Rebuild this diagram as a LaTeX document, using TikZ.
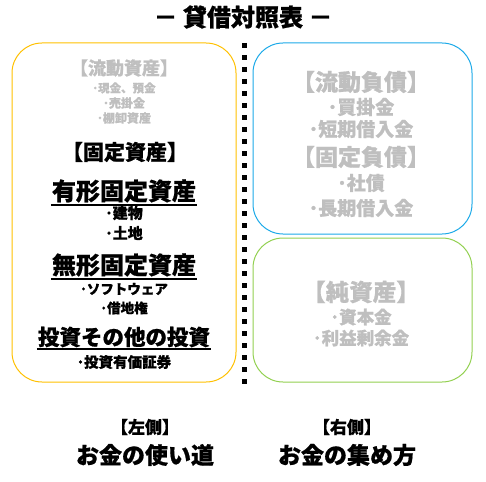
\documentclass[tikz,border=0pt]{standalone}
\usepackage{fontspec}
\setmainfont{Noto Sans CJK JP}[BoldFont={Noto Sans CJK JP Black}, BoldFeatures={FakeBold=0.8}]
\definecolor{boxyellow}{HTML}{FFC000}
\definecolor{boxblue}{HTML}{1BA9E8}
\definecolor{boxgreen}{HTML}{92D050}
\definecolor{fadegray}{HTML}{BFBFBF}
\tikzset{
  panel/.style={draw, line width=1pt, rounded corners=30pt},
  txt/.style={inner sep=0pt, font=\bfseries, anchor=center},
  faded/.style={txt, text=fadegray},
  ul/.style={line width=1.4pt},
  divider/.style={line width=5pt, dash pattern=on 5pt off 7pt}
}
\newcommand{\fs}[1]{\bfseries\fontsize{#1}{#1}\selectfont}
\begin{document}
\begin{tikzpicture}[x=1pt, y=-1pt]
\useasboundingbox (0,0) rectangle (486,481);
% title
\node[txt, font=\fs{24}] (title) at (243,17) {－ 貸借対照表 －};
% panels
\draw[panel, boxyellow] (12,43) rectangle (236,382);
\draw[panel, boxblue] (253,43) rectangle (472,234);
\draw[panel, boxgreen] (253,238) rectangle (472,382);
% divider
\coordinate (dtop) at (244,43);
\coordinate (dbot) at (244,388);
\draw[divider] (dtop) -- (dbot);
% left panel
\node[faded, font=\fs{18}] (ca) at (124,68) {【流動資産】};
\node[faded, font=\fs{11.5}] (ca1) at (124,88) {･現金、預金};
\node[faded, font=\fs{12}] (ca2) at (124,103) {･売掛金};
\node[faded, font=\fs{12}] (ca3) at (124,118) {･棚卸資産};
\node[txt, font=\fs{21}] (fa) at (125,152) {【固定資産】};
\node[txt, font=\fs{24}] (tfa) at (124,191) {有形固定資産};
\draw[ul] ([xshift=-1pt,yshift=-5pt]tfa.base west) -- ([xshift=1pt,yshift=-5pt]tfa.base east);
\node[txt, font=\fs{15}] (tfa1) at (124,213) {･建物};
\node[txt, font=\fs{15}] (tfa2) at (124,233) {･土地};
\node[txt, font=\fs{24}] (ifa) at (124,265) {無形固定資産};
\draw[ul] ([xshift=-1pt,yshift=-5pt]ifa.base west) -- ([xshift=1pt,yshift=-5pt]ifa.base east);
\node[txt, font=\fs{13.5}] (ifa1) at (124,289) {･ソフトウェア};
\node[txt, font=\fs{13.5}] (ifa2) at (124,308) {･借地権};
\node[txt, font=\fs{21.5}] (inv) at (124,337) {投資その他の投資};
\draw[ul] ([xshift=-1pt,yshift=-4pt]inv.base west) -- ([xshift=1pt,yshift=-4pt]inv.base east);
\node[txt, font=\fs{14.5}] (inv1) at (124,362) {･投資有価証券};
% right top panel
\node[faded, font=\fs{23}] (cl) at (361,82) {【流動負債】};
\node[faded, font=\fs{19}] (cl1) at (361,107) {･買掛金};
\node[faded, font=\fs{19}] (cl2) at (361,129) {･短期借入金};
\node[faded, font=\fs{23}] (fl) at (361,157) {【固定負債】};
\node[faded, font=\fs{19}] (fl1) at (361,183) {･社債};
\node[faded, font=\fs{19}] (fl2) at (361,208) {･長期借入金};
% right bottom panel
\node[faded, font=\fs{23.5}] (na) at (361,292) {【純資産】};
\node[faded, font=\fs{17.5}] (na1) at (361,317) {･資本金};
\node[faded, font=\fs{17.5}] (na2) at (361,338) {･利益剰余金};
% bottom captions
\node[txt, font=\fs{17}] (lside) at (145,427) {【左側】};
\node[txt, font=\fs{23}] (luse) at (145,455) {お金の使い道};
\node[txt, font=\fs{17}] (rside) at (347,427) {【右側】};
\node[txt, font=\fs{23}] (rget) at (347,455) {お金の集め方};
\end{tikzpicture}
\end{document}
